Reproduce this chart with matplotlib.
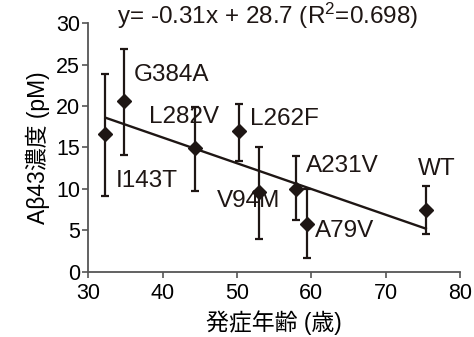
import matplotlib
matplotlib.use("Agg")
import matplotlib.pyplot as plt

plt.rcParams['font.family'] = ['Liberation Sans', 'Noto Sans CJK JP', 'DejaVu Sans']
plt.rcParams['mathtext.fontset'] = 'custom'
plt.rcParams['mathtext.rm'] = 'Liberation Sans'
plt.rcParams['mathtext.it'] = 'Liberation Sans'

# Data
mutants = ["I143T", "G384A", "L282V", "L262F", "V94M", "A231V", "A79V", "WT"]
onset_age = [32.3, 34.8, 44.3, 50.3, 53.0, 58.0, 59.4, 75.4]
ab43 = [16.6, 20.6, 14.9, 17.0, 9.6, 10.0, 5.8, 7.5]
err_low = [9.2, 14.1, 9.8, 13.4, 4.0, 6.2, 1.7, 4.5]
err_high = [23.9, 26.9, 19.85, 20.25, 15.1, 14.0, 9.95, 10.4]
trend_x = [32.3, 75.4]
trend_y = [18.6, 5.2]
equation = "y= -0.31x + 28.7 (R$^2$=0.698)"
x_ticks = [30, 40, 50, 60, 70, 80]
y_ticks = [0, 5, 10, 15, 20, 25, 30]
label_pos = {
    "I143T": (33.7, 10.2), "G384A": (36.15, 23.0), "L282V": (38.2, 18.0),
    "L262F": (51.8, 17.7), "V94M": (47.3, 7.85), "A231V": (59.3, 12.0),
    "A79V": (60.5, 4.15), "WT": (74.4, 11.7),
}

ink = '#1e1614'
fig = plt.figure(figsize=(4.74, 3.37), dpi=100)
ax = fig.add_axes([0.1863, 0.1938, 0.9705 - 0.1863, 0.9309 - 0.1938])

lower = [a - l for a, l in zip(ab43, err_low)]
upper = [h - a for a, h in zip(ab43, err_high)]
ax.errorbar(onset_age, ab43, yerr=[lower, upper], fmt='none', ecolor=ink,
            elinewidth=1.6, capsize=3, capthick=1.6, zorder=2)
ax.plot(trend_x, trend_y, color=ink, lw=1.7, zorder=3)
ax.plot(onset_age, ab43, 'D', color=ink, ms=7.5, zorder=4)

for m in mutants:
    x, y = label_pos[m]
    ax.text(x, y, m, fontsize=17.5, ha='left', va='baseline', color=ink)
ax.text(33.8, 29.9, equation, fontsize=17.5, ha='left', va='baseline', color=ink)

ax.set_xlim(30, 80)
ax.set_ylim(0, 30)
ax.set_xticks(x_ticks)
ax.set_yticks(y_ticks)
ax.tick_params(labelsize=15.5, direction='out', length=4, width=1.2, color='#555555')
ax.tick_params(axis='x', pad=4)
ax.tick_params(axis='y', pad=2)
for s in ['top', 'right']:
    ax.spines[s].set_visible(False)
for s in ['left', 'bottom']:
    ax.spines[s].set_color('#555555')
    ax.spines[s].set_linewidth(1.3)
ax.set_xlabel("発症年齢 (歳)", fontsize=16.5, labelpad=5)
ax.set_ylabel("Aβ43濃度 (pM)", fontsize=16.5, labelpad=4)

fig.savefig("out.png", dpi=100)
